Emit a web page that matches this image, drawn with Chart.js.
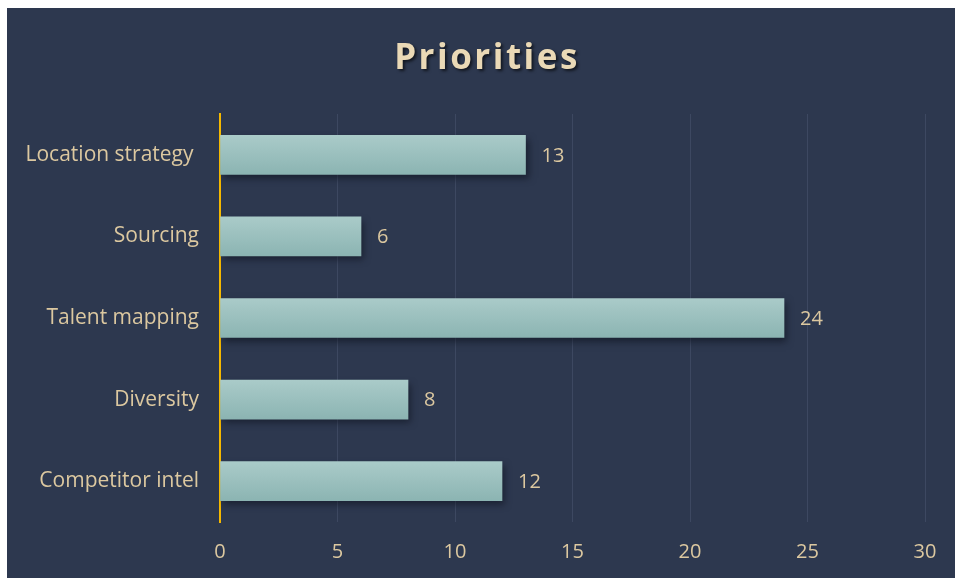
<!DOCTYPE html>
<html>
<head>
<meta charset="utf-8">
<script src="https://cdn.jsdelivr.net/npm/chart.js@4.4.1/dist/chart.umd.min.js"></script>
<style>
  html, body { margin: 0; padding: 0; background: #ffffff; }
  #panel {
    position: absolute; left: 7px; top: 8px;
    width: 948px; height: 570px;
    background: #2d384f;
  }
</style>
</head>
<body>
<div id="panel"><canvas id="chart" width="948" height="570"></canvas></div>
<script>
const categories = ["Location strategy ", "Sourcing", "Talent mapping", "Diversity", "Competitor intel"];
const counts = [13, 6, 24, 8, 12];
const axisMax = 30;
const axisStep = 5;

const textColor = "#dcc8a0";
const fontFamily = "'Open Sans', Lato, sans-serif";

// soft drop shadow under the bars
const barShadow = {
  id: "barShadow",
  beforeDatasetsDraw(chart) {
    const ctx = chart.ctx;
    ctx.save();
    ctx.shadowColor = "rgba(10, 14, 25, 0.55)";
    ctx.shadowBlur = 7;
    ctx.shadowOffsetX = 3;
    ctx.shadowOffsetY = 4;
  },
  afterDatasetsDraw(chart) {
    chart.ctx.restore();
  }
};

// title and value labels
const decorations = {
  id: "decorations",
  afterDraw(chart) {
    const ctx = chart.ctx;
    ctx.save();
    ctx.font = "bold 35px " + fontFamily;
    ctx.letterSpacing = "2.5px";
    ctx.textAlign = "center";
    ctx.textBaseline = "middle";
    ctx.shadowColor = "rgba(0, 0, 0, 0.6)";
    ctx.shadowBlur = 3;
    ctx.shadowOffsetX = 2;
    ctx.shadowOffsetY = 2;
    ctx.fillStyle = "#ead9b6";
    ctx.fillText("Priorities", 480, 51);
    ctx.restore();

    ctx.save();
    ctx.font = "20px " + fontFamily;
    ctx.fillStyle = textColor;
    ctx.textAlign = "left";
    ctx.textBaseline = "middle";
    const meta = chart.getDatasetMeta(0);
    meta.data.forEach((bar, i) => {
      ctx.fillText(String(counts[i]), bar.x + 16, bar.y + 1);
    });
    ctx.restore();
  }
};

const ctx = document.getElementById("chart").getContext("2d");
new Chart(ctx, {
  type: "bar",
  data: {
    labels: categories,
    datasets: [{
      data: counts,
      barThickness: 39,
      borderWidth: 0,
      backgroundColor: (c) => {
        const chart = c.chart;
        const y = chart.scales.y;
        if (!chart.chartArea || !y || c.dataIndex === undefined) return "#9dc0be";
        const mid = y.getPixelForValue(c.dataIndex);
        const g = chart.ctx.createLinearGradient(0, mid - 20, 0, mid + 20);
        g.addColorStop(0, "#aacbc9");
        g.addColorStop(1, "#8bb4b2");
        return g;
      }
    }]
  },
  options: {
    indexAxis: "y",
    responsive: false,
    animation: false,
    layout: { padding: { top: 106, right: 30, left: 0, bottom: 0 } },
    plugins: {
      legend: { display: false },
      tooltip: { enabled: false },
      title: { display: false }
    },
    scales: {
      x: {
        min: 0,
        max: axisMax,
        ticks: {
          stepSize: axisStep,
          color: textColor,
          font: { family: fontFamily, size: 20 },
          padding: 18
        },
        grid: { color: "#3d4861", lineWidth: 1, drawTicks: false },
        border: { display: false },
        afterFit(scale) { scale.height = 56; }
      },
      y: {
        ticks: {
          color: textColor,
          font: { family: fontFamily, size: 21 },
          padding: 21
        },
        grid: { display: false, drawTicks: false },
        border: { display: true, color: "#f5b800", width: 2 },
        afterFit(scale) { scale.width = 213; }
      }
    }
  },
  plugins: [barShadow, decorations]
});
</script>
</body>
</html>
